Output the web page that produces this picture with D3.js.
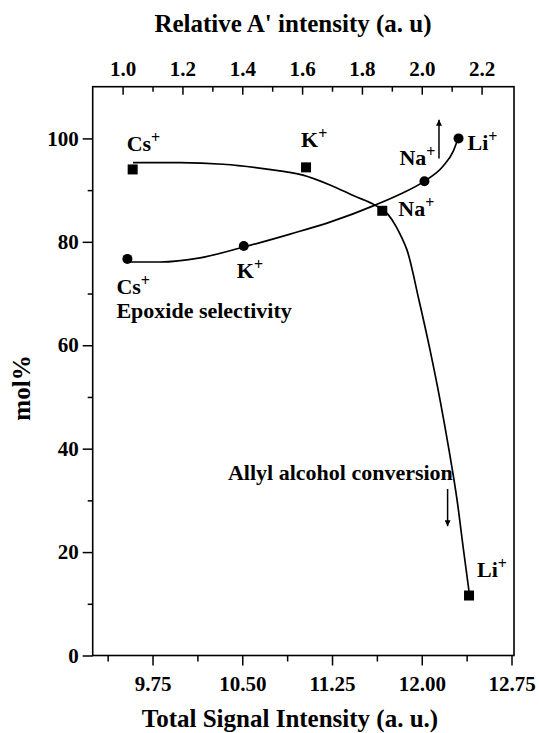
<!DOCTYPE html>
<html>
<head>
<meta charset="utf-8">
<script src="https://cdn.jsdelivr.net/npm/d3@7"></script>
<style>
  body { margin: 0; background: #fff; }
  svg text { font-family: "Liberation Serif", "Times New Roman", serif; font-weight: bold; fill: #000; }
</style>
</head>
<body>
<div id="chart"></div>
<script>
// cations, in order along the curves
const cations = ["Cs", "K", "Na", "Li"];

// Allyl alcohol conversion (squares) vs Total Signal Intensity (bottom axis)
const convSignal = [9.584, 11.033, 11.670, 12.395];
const convMol = [94.0, 94.4, 86.0, 11.6];

// Epoxide selectivity (circles) vs Relative A' intensity (top axis)
const selA = [1.016, 1.405, 2.009, 2.123];
const selMol = [76.7, 79.2, 91.7, 100.0];

// fitted curves
const convFitX = [9.587, 9.98, 10.339, 10.69, 11.008, 11.233, 11.442, 11.609, 11.718, 11.785, 11.835, 11.877, 11.977, 12.069, 12.153, 12.228, 12.295, 12.349, 12.399];
const convFitY = [95.3, 95.3, 95.0, 94.1, 92.9, 91.0, 88.8, 87.1, 85.3, 83.0, 80.7, 78.4, 68.7, 59.1, 49.4, 39.7, 30.1, 20.4, 11.7];
const selFitX = [1.017, 1.125, 1.259, 1.405, 1.56, 1.693, 1.844, 1.927, 2.008, 2.071, 2.105, 2.122];
const selFitY = [76.1, 76.1, 76.9, 79.0, 81.5, 83.8, 87.1, 89.2, 91.7, 94.6, 97.5, 100.1];

// ticks
const bottomMajor = [9.75, 10.5, 11.25, 12.0, 12.75];
const bottomMinor = [9.375, 10.125, 10.875, 11.625, 12.375];
const topMajor = [1.0, 1.2, 1.4, 1.6, 1.8, 2.0, 2.2];
const topMinor = [1.1, 1.3, 1.5, 1.7, 1.9, 2.1];
const yMajor = [0, 20, 40, 60, 80, 100];
const yMinor = [10, 30, 50, 70, 90];

const W = 539, H = 733;
const margin = { top: 86.7, right: 25, bottom: 77.5, left: 92.7 };
const width = W - margin.left - margin.right,
  height = H - margin.top - margin.bottom;

const svg = d3.select("#chart").append("svg")
  .attr("width", W).attr("height", H);
const g = svg.append("g")
  .attr("transform", `translate(${margin.left},${margin.top})`);

const x = d3.scaleLinear().domain([9.25, 12.75]).range([0, width - 2.5]);
const xTop = d3.scaleLinear().domain([0.9, 2.3]).range([0, width - 2.5]);
const y = d3.scaleLinear().domain([0, 110]).range([height, 0]);

const fs = 22, tickFs = 21;

// bottom axis
g.append("g").attr("transform", `translate(0,${height})`)
  .call(d3.axisBottom(x).tickValues(bottomMajor).tickFormat(d3.format(".2f"))
    .tickSize(10).tickSizeOuter(0).tickPadding(11));
g.append("g").attr("transform", `translate(0,${height})`)
  .call(d3.axisBottom(x).tickValues(bottomMinor).tickFormat("").tickSize(6).tickSizeOuter(0));

// top axis, ticks pointing inward
g.append("g")
  .call(d3.axisTop(xTop).tickValues(topMajor).tickFormat(d3.format(".1f"))
    .tickSize(-8).tickSizeOuter(0).tickPadding(11));
g.append("g")
  .call(d3.axisTop(xTop).tickValues(topMinor).tickFormat("").tickSize(-5).tickSizeOuter(0));

// left axis
g.append("g")
  .call(d3.axisLeft(y).tickValues(yMajor).tickFormat(d3.format("d"))
    .tickSize(10).tickSizeOuter(0).tickPadding(4));
g.append("g")
  .call(d3.axisLeft(y).tickValues(yMinor).tickFormat("").tickSize(5).tickSizeOuter(0));

g.selectAll(".domain").remove();
g.selectAll(".tick line").attr("stroke", "#000").attr("stroke-width", 1.5);
g.selectAll(".tick text").style("font-size", tickFs + "px");

// frame
g.append("rect")
  .attr("x", 0).attr("y", 0).attr("width", width).attr("height", height)
  .attr("fill", "none").attr("stroke", "#000").attr("stroke-width", 1.6);

// axis titles
svg.append("text")
  .attr("x", 293).attr("y", 32)
  .attr("text-anchor", "middle").style("font-size", "25px")
  .text("Relative A' intensity (a. u)");
svg.append("text")
  .attr("x", 290).attr("y", 727)
  .attr("text-anchor", "middle").style("font-size", "25px")
  .text("Total Signal Intensity (a. u.)");
svg.append("text")
  .attr("transform", `translate(30,388) rotate(-90)`)
  .attr("text-anchor", "middle").style("font-size", "25px")
  .text("mol%");

// curves
const line = d3.line().curve(d3.curveMonotoneX);
g.append("path")
  .datum(convFitX.map((v, i) => [x(v), y(convFitY[i])]))
  .attr("d", line).attr("fill", "none").attr("stroke", "#000").attr("stroke-width", 1.7);
g.append("path")
  .datum(selFitX.map((v, i) => [xTop(v), y(selFitY[i])]))
  .attr("d", line).attr("fill", "none").attr("stroke", "#000").attr("stroke-width", 1.7);

// markers
const sq = 10;
g.selectAll("rect.conv").data(convSignal).join("rect")
  .attr("class", "conv")
  .attr("x", d => x(d) - sq / 2)
  .attr("y", (d, i) => y(convMol[i]) - sq / 2)
  .attr("width", sq).attr("height", sq).attr("fill", "#000");
g.selectAll("circle.sel").data(selA).join("circle")
  .attr("class", "sel")
  .attr("cx", d => xTop(d))
  .attr("cy", (d, i) => y(selMol[i]))
  .attr("r", 5).attr("fill", "#000");

// cation labels, offset from their marker
function ionLabel(px, py, name) {
  const t = g.append("text").attr("x", px).attr("y", py).style("font-size", fs + "px");
  t.append("tspan").text(name);
  t.append("tspan").attr("dy", -8).style("font-size", "16px").text("+");
}
const convOff = [[-6, -18], [-5, -20], [16, 5], [8, -19]];
const selOff = [[-11, 35], [-7, 32], [-25, -16], [9, 12]];
cations.forEach((c, i) => {
  ionLabel(x(convSignal[i]) + convOff[i][0], y(convMol[i]) + convOff[i][1], c);
  ionLabel(xTop(selA[i]) + selOff[i][0], y(selMol[i]) + selOff[i][1], c);
});

// series captions
g.append("text")
  .attr("x", xTop(selA[0]) - 11).attr("y", y(selMol[0]) + 59)
  .style("font-size", fs + "px").text("Epoxide selectivity");
g.append("text")
  .attr("x", x(12.26)).attr("y", y(34.0))
  .attr("text-anchor", "end").style("font-size", fs + "px")
  .text("Allyl alcohol conversion");

// arrows pointing to the axis each series belongs to
svg.append("defs").append("marker")
  .attr("id", "head").attr("viewBox", "0 0 10 10")
  .attr("refX", 10).attr("refY", 5)
  .attr("markerWidth", 9).attr("markerHeight", 6)
  .attr("markerUnits", "userSpaceOnUse")
  .attr("orient", "auto")
  .append("path").attr("d", "M0,0 L10,5 L0,10 Z").attr("fill", "#000");
// up arrow → top axis
g.append("line")
  .attr("x1", x(12.144)).attr("x2", x(12.144))
  .attr("y1", y(96.1)).attr("y2", y(103.6))
  .attr("stroke", "#000").attr("stroke-width", 1.5).attr("marker-end", "url(#head)");
// down arrow → bottom axis
g.append("line")
  .attr("x1", x(12.216)).attr("x2", x(12.216))
  .attr("y1", y(32.2)).attr("y2", y(25.0))
  .attr("stroke", "#000").attr("stroke-width", 1.5).attr("marker-end", "url(#head)");
</script>
</body>
</html>
